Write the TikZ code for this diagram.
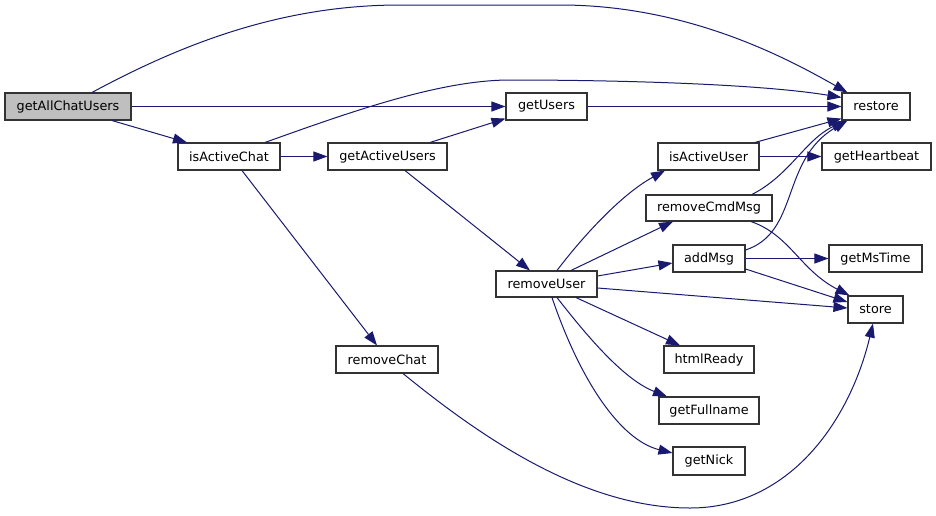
\documentclass[tikz,border=0pt]{standalone}
\usepackage{fontspec}
\setmainfont{DejaVu Sans}
\usetikzlibrary{arrows.meta}
\definecolor{edgecol}{HTML}{191970}
\definecolor{rootfill}{HTML}{BFBFBF}
\tikzset{
  box/.style={draw=black!80, line width=1.1pt, fill=white, rectangle, inner sep=0pt,
    minimum height=27pt, font=\fontsize{12.8}{14}\selectfont, text=black},
  rootbox/.style={box, fill=rootfill},
  edge/.style={draw=edgecol, line width=1pt, -{Triangle[length=14pt,width=10pt]}}
}
\begin{document}
\begin{tikzpicture}[x=1pt,y=-1pt]
\useasboundingbox[fill=white] (0,0) rectangle (936,515);
% nodes
\node[rootbox, minimum width=126pt] (gacu) at (68,106.5) {getAllChatUsers};
\node[box, minimum width=102pt] (iac) at (229,156.5) {isActiveChat};
\node[box, minimum width=119pt] (gau) at (387.5,156.5) {getActiveUsers};
\node[box, minimum width=81pt] (gu) at (546.5,106.5) {getUsers};
\node[box, minimum width=68pt] (rest) at (876,106.5) {restore};
\node[box, minimum width=101pt] (iau) at (708.5,156.5) {isActiveUser};
\node[box, minimum width=109pt] (ghb) at (876.5,156.5) {getHeartbeat};
\node[box, minimum width=126pt, minimum height=26pt] (rcm) at (709,208) {removeCmdMsg};
\node[box, minimum width=72pt] (am) at (709,258.5) {addMsg};
\node[box, minimum width=93pt] (gmt) at (875.5,258.5) {getMsTime};
\node[box, minimum width=101pt, minimum height=26pt] (ru) at (546.5,284) {removeUser};
\node[box, minimum width=55pt] (st) at (875.5,309.5) {store};
\node[box, minimum width=102pt] (rc) at (387,359.5) {removeChat};
\node[box, minimum width=90pt] (hr) at (709,359.5) {htmlReady};
\node[box, minimum width=100pt] (gfn) at (709,410.5) {getFullname};
\node[box, minimum width=72pt, minimum height=28pt] (gn) at (709,461) {getNick};
% edges
\draw[edge] ([xshift=24pt]gacu.north) .. controls (180,45) and (280,5) .. (400,5) -- (560,5) .. controls (690,5) and (790,60) .. ([xshift=6pt]rest.north west);
\draw[edge] ([xshift=36pt]iac.north) .. controls (350,112) and (440,80) .. (510,80) .. controls (620,80) and (760,84) .. ([yshift=-5pt]rest.north west);
\draw[edge] (gacu.east) -- (gu.west);
\draw[edge] ([xshift=42.5pt]gau.north) -- ([yshift=2pt]gu.south west);
\draw[edge] (gu.east) -- (rest.west);
\draw[edge] ([xshift=44pt]gacu.south) -- ([xshift=-42pt]iac.north);
\draw[edge] (iac.east) -- (gau.west);
\draw[edge] ([xshift=13pt]iac.south) -- ([xshift=-10pt]rc.north);
\draw[edge] ([xshift=17.5pt]gau.south) -- ([xshift=-16.5pt]ru.north);
\draw[edge] ([xshift=10.5pt]ru.north) .. controls (580,240) and (620,195) .. ([xshift=-43.5pt]iau.south);
\draw[edge] ([xshift=24.5pt]ru.north) -- ([xshift=-36pt]rcm.south);
\draw[edge] ([yshift=8pt]ru.east) -- ([yshift=-4.5pt]am.west);
\draw[edge] ([yshift=-4pt]ru.east) -- ([yshift=1.5pt]st.west);
\draw[edge] ([xshift=29.5pt]ru.south) -- ([xshift=-29pt]hr.north);
\draw[edge] ([xshift=10.5pt]ru.south) .. controls (590,340) and (625,380) .. ([xshift=-42pt]gfn.north);
\draw[edge] ([xshift=5.5pt]ru.south) .. controls (580,380) and (620,440) .. ([yshift=8pt]gn.west);
\draw[edge] ([xshift=46.5pt]iau.north) -- ([yshift=2pt]rest.south west);
\draw[edge] (iau.east) -- (ghb.west);
\draw[edge] ([xshift=43pt]rcm.north) .. controls (790,175) and (805,140) .. ([xshift=4pt]rest.south west);
\draw[edge] ([xshift=42pt]rcm.south) .. controls (790,235) and (800,270) .. ([xshift=2pt]st.north west);
\draw[edge] ([yshift=8.5pt]am.east) .. controls (800,232) and (780,160) .. ([xshift=6pt]rest.south west);
\draw[edge] (am.east) -- (gmt.west);
\draw[edge] ([yshift=-10.5pt]am.east) -- ([yshift=7.5pt]st.west);
\draw[edge] ([xshift=16pt]rc.south) .. controls (475,432) and (580,508) .. (690,508) .. controls (790,508) and (850,420) .. ([xshift=-2.5pt]st.south);
\end{tikzpicture}
\end{document}
